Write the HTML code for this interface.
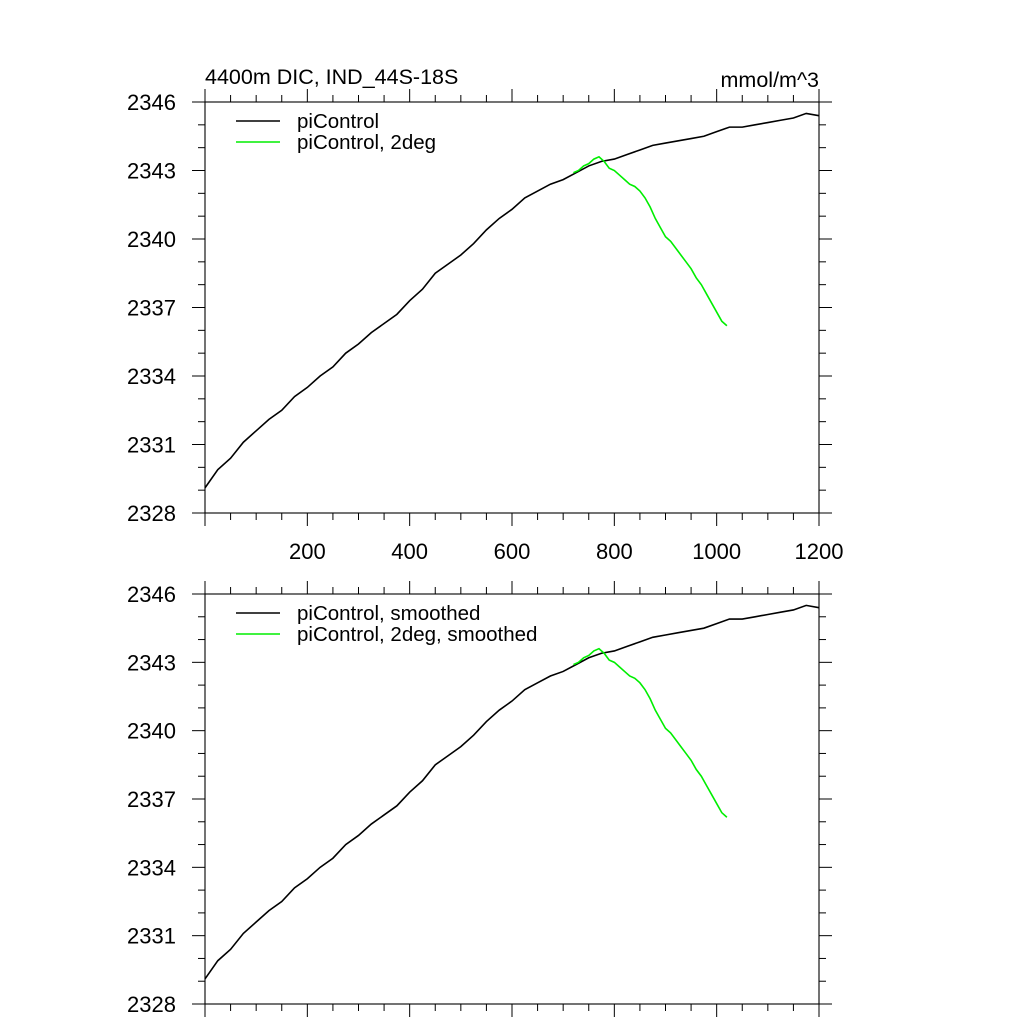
<!DOCTYPE html>
<html><head><meta charset="utf-8"><style>
body{margin:0;background:#fff}
svg{display:block;font-family:"Liberation Sans",sans-serif}
</style></head><body>
<svg id="c" width="1024" height="1024"></svg>
<script>
const years=[0,25,50,75,100,125,150,175,200,225,250,275,300,325,350,375,400,425,450,475,500,525,550,575,600,625,650,675,700,725,750,775,800,825,850,875,900,925,950,975,1000,1025,1050,1075,1100,1125,1150,1175,1200];
const ctrl=[2329.1,2329.9,2330.4,2331.1,2331.6,2332.1,2332.5,2333.1,2333.5,2334.0,2334.4,2335.0,2335.4,2335.9,2336.3,2336.7,2337.3,2337.8,2338.5,2338.9,2339.3,2339.8,2340.4,2340.9,2341.3,2341.8,2342.1,2342.4,2342.6,2342.9,2343.2,2343.4,2343.5,2343.7,2343.9,2344.1,2344.2,2344.3,2344.4,2344.5,2344.7,2344.9,2344.9,2345.0,2345.1,2345.2,2345.3,2345.5,2345.4];
const gYears=[720,730,740,750,760,770,780,790,800,810,820,830,840,850,860,870,880,890,900,910,920,930,940,950,960,970,980,990,1000,1010,1020];
const deg2=[2342.9,2343.0,2343.2,2343.3,2343.5,2343.6,2343.4,2343.1,2343.0,2342.8,2342.6,2342.4,2342.3,2342.1,2341.8,2341.4,2340.9,2340.5,2340.1,2339.9,2339.6,2339.3,2339.0,2338.7,2338.3,2338.0,2337.6,2337.2,2336.8,2336.4,2336.2];
const yTicks=[2328,2331,2334,2337,2340,2343,2346];
const xTicks=[200,400,600,800,1000,1200];
const legends=[["piControl","piControl, 2deg"],["piControl, smoothed","piControl, 2deg, smoothed"]];
const svg=document.getElementById('c');
const NS='http://www.w3.org/2000/svg';
function mk(t,a,p){const e=document.createElementNS(NS,t);for(const k in a)e.setAttribute(k,a[k]);(p||svg).appendChild(e);return e;}
const L=205,R=819;
const sx=v=>L+(v-0)/1200*(R-L);
function panel(top,bot,idx,showX){
  const g=mk('g',{});
  
  
  const sy=v=>bot-(v-2328)/18*(bot-top);
  const fr=mk('rect',{x:L,y:top,width:R-L,height:bot-top,fill:'none',stroke:'#000','stroke-width':1.1},g);
  
  
  for(let v=2328;v<=2346;v++){const maj=(v-2328)%3==0;const l=maj?13:7;
    mk('line',{x1:L,x2:L-l,y1:sy(v),y2:sy(v),stroke:'#000'},g);
    mk('line',{x1:R,x2:R+l,y1:sy(v),y2:sy(v),stroke:'#000'},g);}
  for(let v=0;v<=1200;v+=50){const maj=v%200==0;const l=maj?13:7;
    mk('line',{x1:sx(v),x2:sx(v),y1:bot,y2:bot+l,stroke:'#000'},g);
    mk('line',{x1:sx(v),x2:sx(v),y1:top,y2:top-l,stroke:'#000'},g);}
  yTicks.forEach(v=>{const t=mk('text',{x:176,y:sy(v)+8,'text-anchor':'end','font-size':22},g);t.textContent=v;
    
    });
  if(showX)xTicks.forEach(v=>{const t=mk('text',{x:sx(v),y:bot+46,'text-anchor':'middle','font-size':22},g);t.textContent=v;
    
    });
  const p1=mk('polyline',{points:years.map((y,i)=>sx(y)+','+sy(ctrl[i])).join(' '),fill:'none',stroke:'#000','stroke-width':1.6},g);
  
  
  const p2=mk('polyline',{points:gYears.map((y,i)=>sx(y)+','+sy(deg2[i])).join(' '),fill:'none',stroke:'#00ee00','stroke-width':1.6},g);
  
  
  legends[idx].forEach((s,i)=>{const y=top+19+i*21;
    const ln=mk('line',{x1:236,x2:280,y1:y,y2:y,stroke:i?'#00ee00':'#000','stroke-width':1.4},g);
    
    
    const t=mk('text',{x:297,y:y+7,'font-size':20.5},g);t.textContent=s;
    
    });
}
panel(102,513,0,true);
panel(594,1004,1,false);
const ti=mk('text',{x:205,y:84,'font-size':21.5});ti.textContent='4400m DIC, IND_44S-18S';


const un=mk('text',{x:819,y:87,'font-size':21.5,'text-anchor':'end'});un.textContent='mmol/m^3';


</script>
</body></html>
